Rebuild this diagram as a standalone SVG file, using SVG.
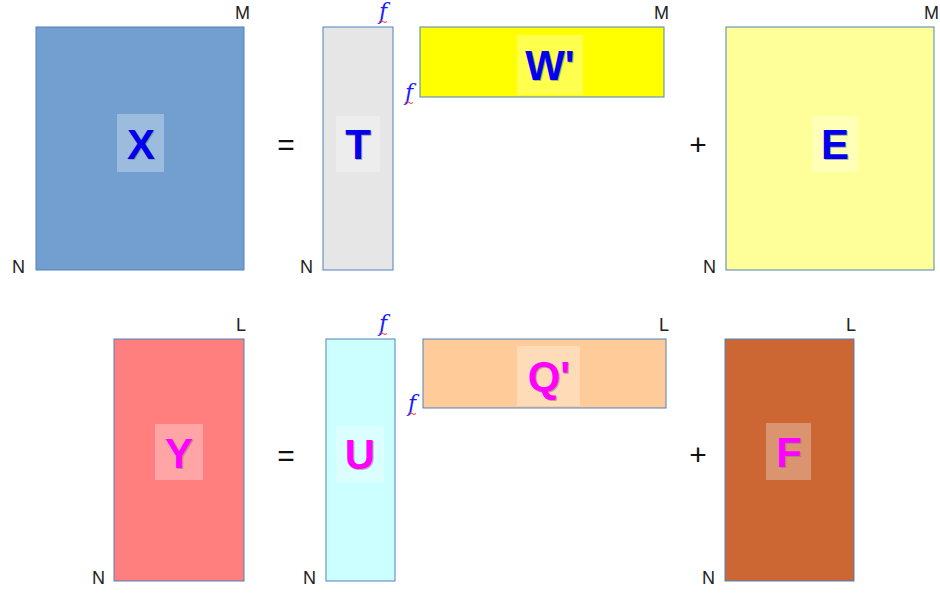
<svg xmlns="http://www.w3.org/2000/svg" width="940" height="594" viewBox="0 0 940 594">
<style>
.m{stroke:#4f81bd;stroke-width:1}
.lb{fill:#ffffff;fill-opacity:0.3}
.big{font-family:"Liberation Sans",Arial,sans-serif;font-weight:bold;font-size:42px;text-anchor:middle}
.sh{fill:#808080;fill-opacity:0.6}
.blue{fill:#0000ee}
.mag{fill:#ff00ff}
.dim{font-family:"Liberation Sans",Arial,sans-serif;font-size:18px;fill:#222}
.op{font-family:"Liberation Sans",Arial,sans-serif;font-size:30px;fill:#111;text-anchor:middle}
.f{font-family:"DejaVu Serif","Liberation Serif",serif;font-style:italic;font-size:22px;fill:#1a1aff}
.sq{fill:none;stroke:#ff3030;stroke-width:1}
</style>
<rect width="940" height="594" fill="#ffffff"/>
<g id="X">
<rect class="m" x="36" y="27" width="208" height="243" fill="#729fcf"/>
<rect class="lb" x="117" y="114" width="47" height="58"/>
<text class="big sh" x="142" y="160">X</text><text class="big blue" x="141" y="159">X</text>
<text class="dim" x="235" y="19">M</text><text class="dim" x="12" y="273">N</text>
</g>
<text class="op" x="286" y="155">=</text>
<g id="T">
<rect class="m" x="323" y="27" width="70" height="243" fill="#e6e6e6"/>
<rect class="lb" x="336" y="116" width="44" height="56"/>
<text class="big sh" x="359" y="160">T</text><text class="big blue" x="358" y="159">T</text>
<text class="f" x="379" y="19">f</text><path class="sq" d="M379 21.5q2-2 4 0q2 2 4 0"/>
<text class="dim" x="300" y="273">N</text>
</g>
<g id="W">
<rect class="m" x="420" y="27" width="244" height="70" fill="#ffff00"/>
<rect class="lb" x="517" y="35" width="66" height="60"/>
<text class="big sh" x="551" y="81">W'</text><text class="big blue" x="550" y="80">W'</text>
<text class="dim" x="654" y="19">M</text>
<text class="f" x="405" y="100">f</text><path class="sq" d="M405 102.5q2-2 4 0q2 2 4 0"/>
</g>
<text class="op" x="698" y="155">+</text>
<g id="E">
<rect class="m" x="726" y="27" width="208" height="243" fill="#ffff99"/>
<rect class="lb" x="812" y="116" width="46" height="56"/>
<text class="big sh" x="836" y="160">E</text><text class="big blue" x="835" y="159">E</text>
<text class="dim" x="924" y="19">M</text><text class="dim" x="703" y="273">N</text>
</g>
<g id="Y">
<rect class="m" x="114" y="339" width="130" height="242" fill="#ff7f7f"/>
<rect class="lb" x="155" y="424" width="48" height="56"/>
<text class="big sh" x="180" y="469">Y</text><text class="big mag" x="179" y="468">Y</text>
<text class="dim" x="236" y="331">L</text><text class="dim" x="92" y="584">N</text>
</g>
<text class="op" x="286" y="466">=</text>
<g id="U">
<rect class="m" x="326" y="339" width="69" height="242" fill="#ccffff"/>
<rect class="lb" x="336" y="426" width="48" height="56"/>
<text class="big sh" x="361" y="470">U</text><text class="big mag" x="360" y="469">U</text>
<text class="f" x="379" y="331">f</text><path class="sq" d="M379 333.5q2-2 4 0q2 2 4 0"/>
<text class="dim" x="303" y="584">N</text>
</g>
<g id="Q">
<rect class="m" x="423" y="339" width="243" height="69" fill="#ffcc99"/>
<rect class="lb" x="517" y="346" width="63" height="60"/>
<text class="big sh" x="550" y="392">Q'</text><text class="big mag" x="549" y="391">Q'</text>
<text class="dim" x="659" y="331">L</text>
<text class="f" x="408" y="411">f</text><path class="sq" d="M408 413.5q2-2 4 0q2 2 4 0"/>
</g>
<text class="op" x="698" y="465">+</text>
<g id="F">
<rect class="m" x="725" y="339" width="129" height="242" fill="#cc6633"/>
<rect class="lb" x="766" y="423" width="45" height="57"/>
<text class="big sh" x="790" y="468">F</text><text class="big mag" x="789" y="467">F</text>
<text class="dim" x="846" y="331">L</text><text class="dim" x="702" y="584">N</text>
</g>
</svg>
